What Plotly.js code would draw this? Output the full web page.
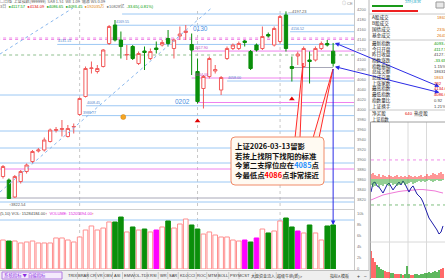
<!DOCTYPE html>
<html><head><meta charset="utf-8">
<script src="https://cdn.plot.ly/plotly-3.0.1.min.js"></script>
<style>html,body{margin:0;padding:0;background:#fff;overflow:hidden}#chart{width:445px;height:280px}</style>
</head><body><div id="chart"></div><script>
// ---------- data ----------
const candleOpen=[3867,3860,3826,3857,3877,3897,3918,3920,3937,3959,3961,3947,3966,3991,4027,4083,4077,4087,4133,4170,4140,4110,4127,4093,4118,4103,4124,4130,4143,4123,4148,4155,4131,4077,4043,4067,4078,4040,4103,4123,4123,4138,4117,4130,4123,4151,4130,4137,4190,4087,4108,4087,4100,4100,4123,4133,4117.57];
const candleHigh=[3890,3863,3870,3880,3893,3920,3924,3945,3963,3966,3980,3970,3973,4025,4087,4097,4090,4122,4170,4180,4157,4130,4130,4117,4127,4123,4137,4140,4160,4143,4167,4170,4153,4103,4070,4107,4090,4068,4127,4133,4137,4140,4120,4133,4167,4155,4167,4190,4197.23,4107,4117,4127,4117,4127,4137,4140,4134.09];
const candleLow=[3863,3822.54,3824,3853,3873,3893,3915,3917,3935,3955,3947,3945,3953,3988.77,4025,4073,4073,4085,4130,4137,4103,4100,4100,4090,4080,4100,4113,4127,4127,4103,4140,4140,4070,4013,4003,4063,4073,4030,4100,4120,4120,4127,4080,4117,4120,4145,4127,4133,4117,4057,4090,4085,4053,4097,4120,4127,4086.65];
const candleClose=[3887,3823,3867,3877,3890,3917,3920,3940,3960,3961,3963,3963,3967,4023,4083,4084,4083,4120,4167,4140,4127,4111,4103,4113,4115,4117,4121,4135,4133,4140,4152,4158,4120,4017,4067,4103,4081,4065,4123,4130,4133,4135,4083,4120,4147,4148,4163,4187,4123,4083,4112,4123,4097,4123,4133,4130,4093.45];
const volume=[5270,5090,5090,4730,4910,5090,4730,4730,4730,5640,5640,5270,4910,5820,7090,7820,7090,7450,8550,8550,9450,6730,7640,7090,7270,6730,7090,7640,8730,7450,8180,9090,8000,7270,6360,6730,6180,5820,5820,5270,5090,5270,4910,5640,7270,6550,6910,8730,9270,7640,6910,6550,8000,6550,5270,7820,8000];
const magentaVolIdx=[26,41,43,50];

// drawn levels (price, starting candle index)
const blueLevelPrice=[4192,4169.55,4156.52,4131.15,4058.00,4008.45,3988.77,4030,3958,3924,3894,3856,3816];
const blueLevelStart=[20.2,19,48.7,9.2,38,14.1,13.4,-1,-1,-1,-1,-1,-1];
const blueLevelLabeled=[false,true,true,true,true,true,true,false,false,false,false,false,false];
const magentaLevelPrice=[4117.90,4064.00,4015,3882];
const magentaLevelStart=[32,32,32.9,-1];
const magentaLevelLabeled=[true,true,false,false];
const grayLevelPrice=[4085,3824];
const grayLevelStart=[48.7,-1];
const grayLevelEnd=[56,60];
const pinkDotLevels=[4144,4141];
const greenDotLevels=[4110];
const volLevels=[8908];
const trendLines=[[-0.51,4112,11.87,4204],[-0.51,3836,35.37,4204]];
const monthStartIdx=[13,33,47];
const sigUpIdx=[33,49], sigUpPrice=[3978,4022];
const sigDotIdx=[20.4], sigDotPrice=[3986];

// intraday mini chart
const miniPrice=[4117.7,4124.2,4124.9,4122.1,4121.3,4119.2,4117.0,4119.9,4122.8,4124.2,4122.1,4119.2,4121.3,4123.5,4124.9,4122.8,4125.7,4123.5,4119.9,4117.7,4120.6,4122.1,4119.2,4116.3,4114.9,4113.4,4110.5,4106.2,4101.9,4099.0,4096.9,4094.7,4093.3,4090.4,4087.5,4088.9,4093.3];
const miniAvg=[4112.0,4113.4,4114.5,4115.6,4116.3,4117.0,4117.7,4118.1,4118.5,4118.8,4119.2,4119.5,4119.5,4119.5,4119.2,4118.8,4118.5,4117.7,4117.0];
const leadUp=[5,6,4,3,5,2,4,3,2,4,3,2,3,4,2,3,2,3,2,4,3,2,3,2,3,4,2,3,5,3,4,6,5,4,6,7,5];
const leadDown=[6,8,7,5,8,6,7,5,6,7,4,6,5,7,6,5,4,6,5,4,3,5,4,3,2,3,2,3,2,1,2,3,2,1,2,2,1];
const miniVol=[27,20,16,13,11,9,8,7,6,6,5,5,4,4,4,4,3,4,12,4,3,3,4,4,3,4,4,5,5,6,5,6,7,6,8,9,10];
const miniRefLevels=[4140.8,4108.4];

// texts
const headerTop='□日线  上证指数(999999)  SAR 1.51  WE 1.09  通道 WS 0.09';
const headerVals=[['3日','#666'],['●4117.57','#009900'],['●4134.09','#e00000'],['●4086.65','#009900'],['●4093.45','#009900'],['●192035万','#e08000'],['●10828亿','#666'],['-33.65(-0.81%)','#009900']];
const volHeader=[['(5,10) VOL: 15284184.00','#444'],['↑','#e00000'],['  VOLUME: 15205494.00','#e020e0'],['↑','#e00000']];
const calloutLines=['上证2026-03-13留影','若按上找阴下找阳的标准','今第二支撑位应在<span style="color:#1e90ff">4085</span>点','今最低点<span style="color:#ff0000">4086</span>点非常接近'];
const panelRowsA=['A股成交','B股成交','国债成交','基金成交'];
const panelValsA=[['18631','#e07000'],['',''],['2334','#e07000'],['2643','#e07000']];
const panelRowsB=['最新指数','今日开盘','昨日收盘','指数涨跌','指数振幅','总成交额','总成交量','上涨家数','最高指数','最低指数','指数量比','上证换手'];
const panelValsB=[['4093.45','#009900'],['4117.57','#009900'],['4127.10','#444'],['-33.65','#009900'],['1.15%','#444'],['18631','#444'],['1863','#e07000'],['792','#e00000'],['4134.09','#e00000'],['4086.65','#e00000'],['0.92','#444'],['1.21%','#444']];
const tabLabels=['TRIX','BRAR','CR','VR','OBV','ASI','EMV','VOL-TDX','RSI','WR','SAR','KDJ','CCI','ROC','MTM','BOLL','PSY','MCST','大盘资金流入','超级牛熊(新)>'];
const tabCenters=[72,83,92.5,99.5,108,117,128,140.5,153.5,163,172.5,184,191.5,201,212.5,223.5,234,244,262.5,290];

// ---------- layout helpers ----------
const W=445,H=280;
const X=px=>px/W, Y=py=>1-py/H;
const FONT='Liberation Sans, Noto Sans CJK SC, sans-serif';
const CJK='Noto Sans CJK SC, sans-serif';
const RED='#f25c5c', GREEN='#0a8f0a';

const idx=candleOpen.map((_,i)=>i);
const up=candleClose.map((c,i)=>c>=candleOpen[i]);
const volFill=idx.map(i=>magentaVolIdx.includes(i)?'#ff00ff':(up[i]?'#ffffff':GREEN));
const volLine=idx.map(i=>magentaVolIdx.includes(i)?'#ff00ff':(up[i]?'#ff8f8f':GREEN));
const miniIdx=miniPrice.map((_,i)=>i);
const avgIdx=miniAvg.map((_,i)=>2*i);
const miniVolColor=miniPrice.map((p,i)=>(i===0||p>=miniPrice[i-1])?'#ff2a2a':'#1a9a1a');

const traces=[
 {type:'candlestick',x:idx,open:candleOpen,high:candleHigh,low:candleLow,close:candleClose,xaxis:'x',yaxis:'y',
  increasing:{line:{color:RED,width:1},fillcolor:'#ffffff'},decreasing:{line:{color:GREEN,width:1},fillcolor:GREEN},
  whiskerwidth:0,hoverinfo:'skip'},
 {type:'bar',x:idx,y:volume,xaxis:'x',yaxis:'y2',width:0.78,marker:{color:volFill,line:{color:volLine,width:1}},hoverinfo:'skip'},
 {type:'scatter',mode:'markers',x:sigUpIdx,y:sigUpPrice,xaxis:'x',yaxis:'y',marker:{symbol:'triangle-up',size:5,color:'#e00000'},hoverinfo:'skip'},
 {type:'scatter',mode:'markers',x:sigDotIdx,y:sigDotPrice,xaxis:'x',yaxis:'y',marker:{symbol:'circle',size:5,color:'#f5a623',line:{color:'#d08010',width:0.5}},hoverinfo:'skip'},
 {type:'bar',x:miniIdx,y:leadUp,xaxis:'x2',yaxis:'y4',width:0.5,marker:{color:'#ff3030'},hoverinfo:'skip'},
 {type:'bar',x:miniIdx,y:leadDown.map(v=>-v),xaxis:'x2',yaxis:'y4',width:0.5,marker:{color:'#2aa02a'},hoverinfo:'skip'},
 {type:'scatter',mode:'lines',x:avgIdx,y:miniAvg,xaxis:'x2',yaxis:'y3',line:{color:'#f07ad8',width:1},hoverinfo:'skip'},
 {type:'scatter',mode:'lines',x:miniIdx,y:miniPrice,xaxis:'x2',yaxis:'y3',line:{color:'#1c1ca8',width:1},hoverinfo:'skip'},
 {type:'bar',x:miniIdx,y:miniVol,xaxis:'x2',yaxis:'y5',width:0.7,marker:{color:miniVolColor},hoverinfo:'skip'}
];

const shapes=[], ann=[];
const hline=(p,x0,x1,color,dash,yref)=>shapes.push({type:'line',xref:'x',yref:yref||'y',x0,x1,y0:p,y1:p,line:{color,width:1,dash:dash||'solid'},layer:'below'});
const pline=(x0,y0,x1,y1,color,w,dash)=>shapes.push({type:'line',xref:'paper',yref:'paper',x0:X(x0),y0:Y(y0),x1:X(x1),y1:Y(y1),line:{color,width:w||1,dash:dash||'solid'}});
const prect=(x0,y0,x1,y1,fill,line)=>shapes.push({type:'rect',xref:'paper',yref:'paper',x0:X(x0),y0:Y(y0),x1:X(x1),y1:Y(y1),fillcolor:fill,line:{color:line||fill,width:line?1:0}});
const T=(px,py,text,size,color,o)=>ann.push(Object.assign({xref:'paper',yref:'paper',x:X(px),y:Y(py),text,showarrow:false,xanchor:'left',yanchor:'middle',borderpad:0,borderwidth:0,font:{size,color,family:FONT}},o||{}));
const P=(x,y)=>`${X(x)},${Y(y)}`;
function rrect(x0,y0,x1,y1,r){return `M${P(x0+r,y0)} L${P(x1-r,y0)} Q${P(x1,y0)} ${P(x1,y0+r)} L${P(x1,y1-r)} Q${P(x1,y1)} ${P(x1-r,y1)} L${P(x0+r,y1)} Q${P(x0,y1)} ${P(x0,y1-r)} L${P(x0,y0+r)} Q${P(x0,y0)} ${P(x0+r,y0)} Z`;}

// month separators
monthStartIdx.forEach(m=>{
 shapes.push({type:'line',xref:'x',yref:'y',x0:m,x1:m,y0:3700,y1:4300,line:{color:'#c8c8c8',width:1,dash:'dot'},layer:'below'});
 shapes.push({type:'line',xref:'x',yref:'y2',x0:m,x1:m,y0:0,y1:11000,line:{color:'#c8c8c8',width:1,dash:'dot'},layer:'below'});
});
// levels
blueLevelPrice.forEach((p,i)=>{hline(p,blueLevelStart[i],60,'#9cc8f4');
 if(blueLevelLabeled[i]) ann.push({xref:'x',yref:'y',x:blueLevelStart[i],y:p,text:p.toFixed(2),showarrow:false,xanchor:'left',yanchor:'bottom',borderpad:0,font:{size:3.6,color:'#4f86cc',family:FONT}});});
magentaLevelPrice.forEach((p,i)=>{hline(p,magentaLevelStart[i],60,'#ee82ee');
 if(magentaLevelLabeled[i]) ann.push({xref:'x',yref:'y',x:magentaLevelStart[i]+0.4,y:p,text:p.toFixed(2),showarrow:false,xanchor:'left',yanchor:'bottom',borderpad:0,font:{size:3.6,color:'#c040c0',family:FONT}});});
grayLevelPrice.forEach((p,i)=>hline(p,grayLevelStart[i],grayLevelEnd[i],'#a8a8b8'));
pinkDotLevels.forEach(p=>hline(p,-1,60,'#f08ce8','dot'));
greenDotLevels.forEach(p=>hline(p,-1,60,'#8fbf8f','dot'));
volLevels.forEach(p=>hline(p,-1,60,'#9cc8f4','solid','y2'));
trendLines.forEach(t=>shapes.push({type:'line',xref:'x',yref:'y',x0:t[0],y0:t[1],x1:t[2],y1:t[3],line:{color:'#8ab8ee',width:1,dash:'dot'}}));

// frame lines
pline(0,209.5,354,209.5,'#d0d0d0');
pline(354.5,0,354.5,271,'#c8c8c8');
pline(369,0,369,280,'#b8b8b8');
// tab bar
prect(0,270.5,369,280,'#efefef');
pline(0,270.5,369,270.5,'#c0c0c0');
prect(2,272,62,279,'#f4eafc','#b27ae0');
T(4,275.6,'系统指标 ▼ 自编指标',4.4,'#8a2be2',{font:{size:4.4,color:'#8a2be2',family:CJK}});
tabLabels.forEach((t,i)=>{T(tabCenters[i],275.6,t,4,'#333',{xanchor:'center',font:{size:4,color:'#333',family:FONT}});
 if(i<tabLabels.length-1){const mx=(tabCenters[i]+tabCenters[i+1])/2+(i===17?2:0); pline(mx,272,mx,279,'#b0b0b0',0.6);}});
T(330,275.6,'指标A',4,'#333',{font:{size:4,color:'#333',family:CJK}});
T(341,275.6,'模板',4,'#333',{font:{size:4,color:'#333',family:CJK}});
T(357,275.6,'+',5,'#333');T(364,275.6,'−',5,'#333');

// headers
T(0,1.2,headerTop,4,'#555',{font:{size:4,color:'#555',family:CJK}});
T(0,6,headerVals.map(h=>`<span style="color:${h[1]}">${h[0]}</span>`).join('  '),4,'#555',{font:{size:4,color:'#555',family:FONT}});
T(342,3,'◎ CE',4,'#888');
T(0,213,volHeader.map(h=>`<span style="color:${h[1]}">${h[0]}</span>`).join(''),4,'#444');

// chart labels
T(193,28.5,'0130',6.5,'#4a90e2');
T(175,101.5,'0202',6.5,'#4a90e2');
T(288,12,'—4197.23',4,'#555');
T(9,204.5,'↑3822.54',4,'#555');

// callout
shapes.push({type:'path',xref:'paper',yref:'paper',path:`M${P(303,63)} L${P(295,138)} L${P(300,138)} Z`,fillcolor:'#fff4ec',line:{color:'#ff2a2a',width:1}});
shapes.push({type:'path',xref:'paper',yref:'paper',path:`M${P(333,69)} L${P(313,138)} L${P(319,138)} Z`,fillcolor:'#fff4ec',line:{color:'#ff2a2a',width:1}});
shapes.push({type:'path',xref:'paper',yref:'paper',path:rrect(231,137,324,185,4),fillcolor:'#fffaf2',line:{color:'#f08c6a',width:1}});
T(235,140,calloutLines.map(t=>'<b>'+t+'</b>').join('<br>'),7.4,'#111',{yanchor:'top',align:'left',font:{size:7.4,color:'#111',family:CJK}});

// arrows from last candle
const last=candleOpen.length-1;
const arrowBase={showarrow:true,arrowhead:2,arrowsize:0.9,arrowwidth:1,arrowcolor:'#2b2be6',text:' ',font:{size:1},standoff:0,startstandoff:0,borderpad:0};
ann.push(Object.assign({xref:'x',yref:'y',x:last+0.3,y:candleHigh[last],ax:105,ay:44,arrowside:'end+start'},arrowBase));
ann.push(Object.assign({xref:'x',yref:'y',x:last+0.3,y:candleLow[last],ax:105,ay:26,arrowside:'end+start'},arrowBase));
ann.push(Object.assign({xref:'x',yref:'y2',x:last,y:volume[last],ax:0,ay:-157,arrowside:'end'},arrowBase));

// right panel
prect(372,5,403,7,'#1a9a1a');
prect(372,10,418,12,'#ee2020');
prect(436,2,444,8,'#e8e8e8','#999');
T(405,0.6,'分时走势',4,'#00a0c0',{font:{size:4,color:'#00a0c0',family:CJK}});
pline(369,14,445,14,'#c8c8c8');
pline(369,40,445,40,'#c8c8c8');
pline(369,110,445,110,'#c8c8c8');
panelRowsA.forEach((t,i)=>{const y=17+i*6.2;T(372,y,t,4.6,'#222',{font:{size:4.6,color:'#222',family:CJK}});
 if(panelValsA[i][0]) T(437,y,panelValsA[i][0],4.2,panelValsA[i][1]);});
panelRowsB.forEach((t,i)=>{const y=43.3+i*5.7;T(372,y,t,4.6,'#222',{font:{size:4.6,color:'#222',family:CJK}});
 T(434,y,panelValsB[i][0],4.2,panelValsB[i][1]);});
T(372,113.3,'净买股',4.6,'#222',{font:{size:4.6,color:'#222',family:CJK}});
T(405,113.3,'640',4.2,'#e00000');
T(414,113.3,'热度股',4.6,'#222',{font:{size:4.6,color:'#222',family:CJK}});
T(372,119,'上证指数',4.2,'#222',{font:{size:4.2,color:'#222',family:CJK}});
// mini chart frame
pline(370.5,122,370.5,279,'#a0a0a0');
pline(370.5,122,445,122,'#a0a0a0');
pline(370.5,242,445,242,'#d8d8d8');
[37/4,37/2,37*3/4].forEach(g=>shapes.push({type:'line',xref:'x2',yref:'paper',x0:g,x1:g,y0:Y(279),y1:Y(122),line:{color:'#dadada',width:1},layer:'below'}));
shapes.push({type:'line',xref:'x2',yref:'y3',x0:0,x1:37,y0:miniRefLevels[0],y1:miniRefLevels[0],line:{color:'#f08ce8',width:1,dash:'dot'},layer:'below'});
shapes.push({type:'line',xref:'x2',yref:'y3',x0:0,x1:37,y0:miniRefLevels[1],y1:miniRefLevels[1],line:{color:'#7fbf7f',width:1,dash:'dot'},layer:'below'});

const yPix=p=>4200-(p-10)*2; // price at a pixel row of the main pane
const layout={
 width:W,height:H,margin:{l:0,r:0,t:0,b:0},paper_bgcolor:'#ffffff',plot_bgcolor:'#ffffff',showlegend:false,
 boxgap:0.2,barmode:'overlay',
 xaxis:{domain:[0,X(354)],range:[-0.509,59.54],visible:false,rangeslider:{visible:false},fixedrange:true,anchor:'y'},
 yaxis:{domain:[Y(209),Y(8)],range:[yPix(209),yPix(8)],side:'right',anchor:'x',showgrid:false,zeroline:false,showline:false,ticks:'',dtick:20,tick0:0,ticklabelstandoff:2,tickfont:{size:4,color:'#777',family:FONT}},
 yaxis2:{domain:[Y(269),Y(211)],range:[0,10544],side:'right',anchor:'x',showgrid:false,zeroline:false,showline:false,ticks:'',dtick:2000,ticklabelstandoff:2,tickfont:{size:4,color:'#777',family:FONT}},
 xaxis2:{domain:[X(371),X(445)],range:[0,37],visible:false,anchor:'y3'},
 yaxis3:{domain:[Y(240),Y(122)],range:[4083.2,4168.1],visible:false,anchor:'x2'},
 yaxis4:{overlaying:'y3',range:[-61,57],visible:false,anchor:'x2'},
 yaxis5:{domain:[Y(278),Y(245)],range:[0,33],visible:false,anchor:'x2'},
 shapes,annotations:ann
};
Plotly.newPlot('chart',traces,layout,{staticPlot:true,displayModeBar:false});
</script></body></html>
